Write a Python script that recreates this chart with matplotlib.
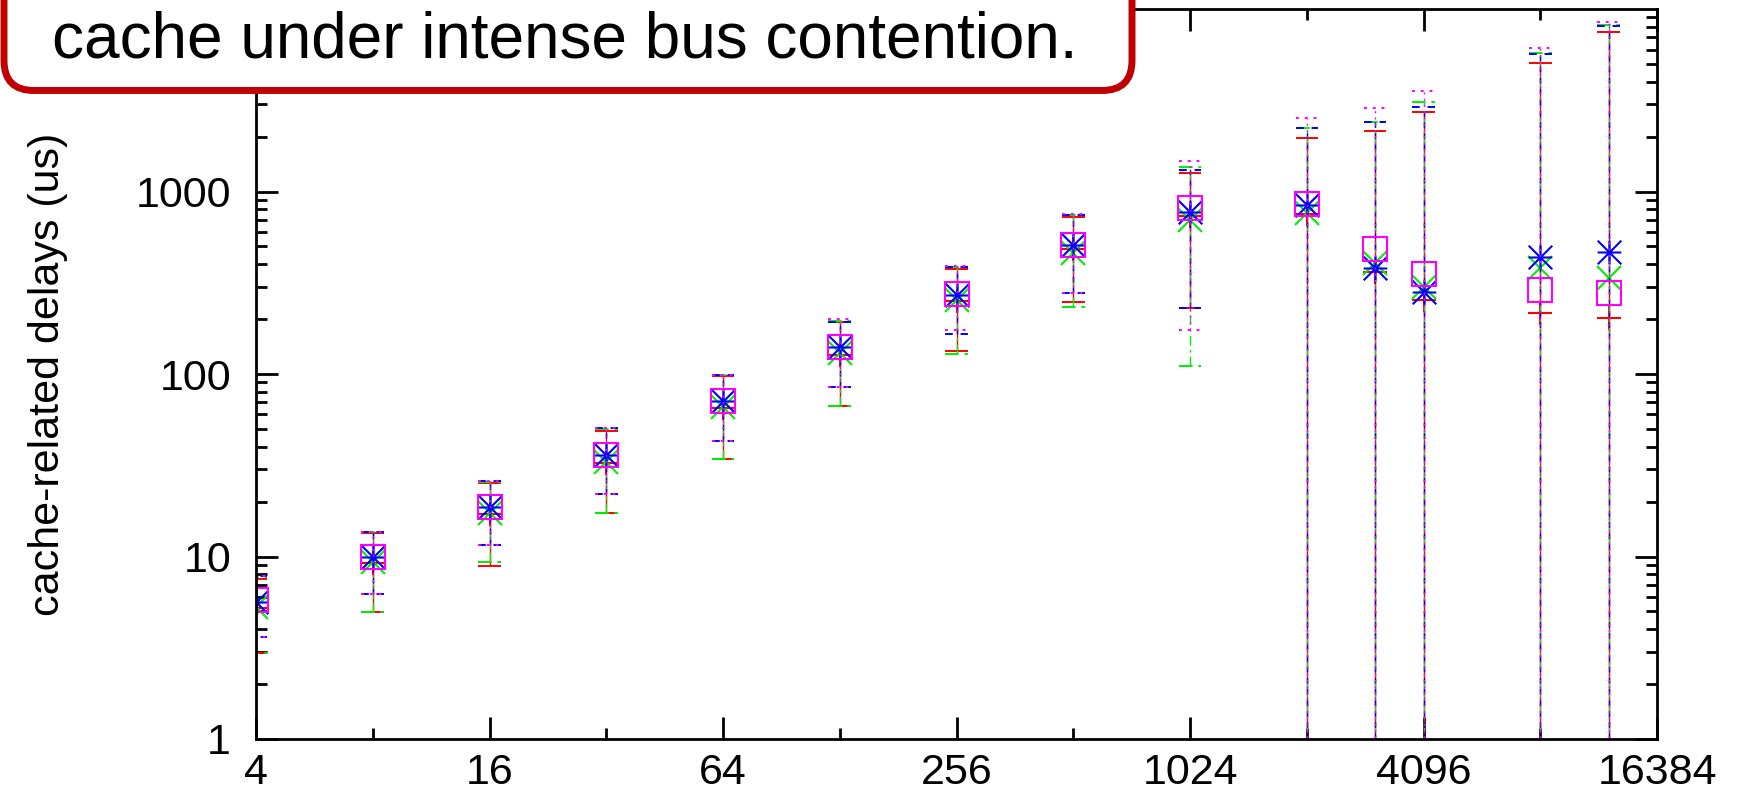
import numpy as np
import matplotlib.pyplot as plt
from matplotlib.path import Path
from matplotlib.patches import FancyBboxPatch
from matplotlib.transforms import IdentityTransform
from matplotlib.ticker import LogLocator, FixedLocator, FuncFormatter, NullFormatter

plt.rcParams['font.family'] = ['Liberation Sans', 'DejaVu Sans']

# --- data ---
sizes = [4, 8, 16, 32, 64, 128, 256, 512, 1024, 2048, 3072, 4096, 8192, 12288]

red_mid = [5.2, 9.2, 17.1, 32.4, 65, 127, 251, 485, 736, 755, 363, 255, 216, 203]
red_lo = [2.95, 4.95, 8.9, 17.3, 34.2, 66.7, 134, 248, 230, 0.5, 0.5, 0.5, 0.5, 0.5]
red_hi = [7.5, 13.4, 25.2, 48.7, 98, 193, 376, 727, 1267, 1972, 2153, 2737, 5080, 7513]

green_mid = [5.3, 9.3, 17.3, 32.9, 65.9, 130, 255, 461, 700, 764, 406, 300, 381, 336]
green_lo = [2.95, 4.95, 9.3, 17.3, 34.2, 66.7, 129, 233, 111, 0.5, 0.5, 0.5, 0.5, 0.5]
green_hi = [7.7, 13.6, 25.6, 50, 98.8, 196, 385, 740, 1364, 2234, 2411, 3103, 5764, 8204]

blue_mid = [5.6, 9.9, 18.6, 35.9, 71, 140, 272, 510, 774, 846, 381, 282, 438, 467]
blue_lo = [3.6, 6.2, 11.5, 22.0, 42.9, 84.9, 166, 278, 230, 0.5, 0.5, 0.5, 0.5, 0.5]
blue_hi = [7.8, 13.6, 25.9, 50.6, 98.8, 193, 385, 745, 1314, 2234, 2411, 2916, 5688, 8105]

mag_mid = [5.75, 10.0, 18.6, 35.9, 71.1, 140.7, 275, 510, 815, 857, 485, 354, 289, 278]
mag_lo = [3.6, 6.2, 11.5, 22.0, 42.9, 84.9, 174, 278, 174, 0.5, 0.5, 0.5, 0.5, 0.5]
mag_hi = [7.8, 13.6, 25.9, 50.6, 98.8, 200, 391, 755, 1472, 2535, 2877, 3565, 6138, 8531]

y_ticks = [1, 10, 100, 1000]
callout = 'cache under intense bus contention.'

# gnuplot style asterisk (+ and x together)
star = Path([(-1, 0), (1, 0), (0, -1), (0, 1), (-1, -1), (1, 1), (-1, 1), (1, -1)],
            [Path.MOVETO, Path.LINETO] * 4)

series = [
    ('#ff0000', '-', '+', red_mid, red_lo, red_hi),
    ('#00ee00', (0, (7, 3, 2, 3)), 'x', green_mid, green_lo, green_hi),
    ('#0000ff', (0, (4, 4)), star, blue_mid, blue_lo, blue_hi),
    ('#ff00ff', (0, (1.5, 3)), 's', mag_mid, mag_lo, mag_hi),
]

fig = plt.figure(figsize=(17.37, 7.99), dpi=100)
ax = fig.add_axes([0.1474, 0.0751, 0.8066, 0.9136])
ax.set_xscale('log', base=2)
ax.set_yscale('log')
ax.set_xlim(4, 16384)
ax.set_ylim(1, 10000)

x = np.array(sizes, dtype=float)
cap = 2 ** 0.097
for color, ls, marker, mid, lo, hi in series:
    ax.vlines(x, lo, hi, colors=color, linestyles=[ls], lw=1.0)
    ax.hlines(lo, x / cap, x * cap, colors=color, linestyles=[ls], lw=1.4)
    ax.hlines(hi, x / cap, x * cap, colors=color, linestyles=[ls], lw=1.4)
    ax.plot(x, mid, linestyle='none', marker=marker, ms=17, mec=color,
            mfc='none', mew=1.5)

fmt = FuncFormatter(lambda v, p: f'{v:g}')
ax.xaxis.set_major_locator(LogLocator(base=4))
ax.xaxis.set_minor_locator(LogLocator(base=4, subs=[2]))
ax.xaxis.set_major_formatter(fmt)
ax.xaxis.set_minor_formatter(NullFormatter())
ax.yaxis.set_major_locator(FixedLocator(y_ticks))
ax.yaxis.set_minor_locator(LogLocator(base=10, subs=np.arange(2, 10)))
ax.yaxis.set_major_formatter(fmt)
ax.yaxis.set_minor_formatter(NullFormatter())

ax.tick_params(which='both', direction='in', top=True, right=True, width=2)
ax.tick_params(which='major', length=16, labelsize=31)
ax.tick_params(which='minor', length=8)
ax.tick_params(axis='x', which='major', pad=10)
ax.tick_params(axis='y', which='major', pad=18)
for s in ax.spines.values():
    s.set_linewidth(2)

ax.set_ylabel('cache-related delays (us)', fontsize=31)
ax.yaxis.set_label_coords(-0.134, 0.5)

# red rounded callout box over the top-left corner
box = FancyBboxPatch((4, 799 - 90.5), 1128, 200,
                     boxstyle='round,pad=0,rounding_size=30',
                     transform=IdentityTransform(), fc='white',
                     ec='#c00000', lw=5, zorder=4)
fig.add_artist(box)
fig.text(565 / 1737, (799 - 57) / 799, callout, ha='center', va='baseline',
         fontsize=46, zorder=5)

fig.savefig('out.png', dpi=100)
